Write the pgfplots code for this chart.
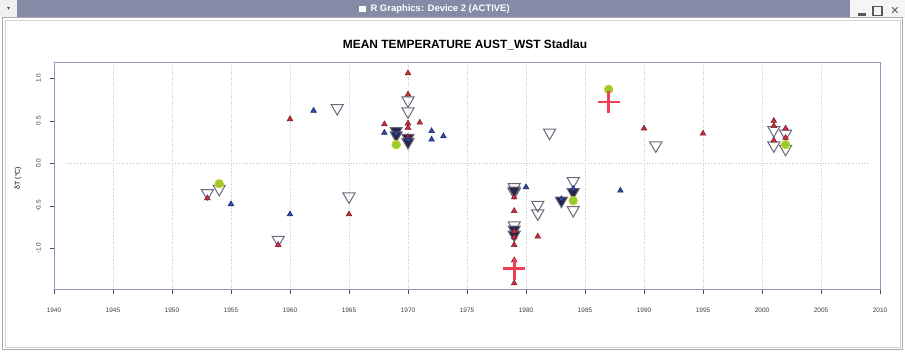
\documentclass[border=0pt]{standalone}
\usepackage{pgfplots}
\pgfplotsset{compat=1.18}
\usepackage{fontspec}
\setmainfont{Liberation Sans}
\newfontfamily\symfont{DejaVu Sans}

\definecolor{barcol}{RGB}{132,139,166}
\definecolor{redtri}{RGB}{205,45,65}
\definecolor{bluetri}{RGB}{50,72,175}
\definecolor{openedge}{RGB}{105,105,125}
\definecolor{darkfill}{RGB}{38,38,70}
\definecolor{greenfill}{RGB}{150,205,45}
\definecolor{greenedge}{RGB}{205,205,45}
\definecolor{plusred}{RGB}{242,62,82}
\definecolor{framecol}{RGB}{140,150,190}

\begin{document}
\begin{tikzpicture}
\useasboundingbox (0bp,0bp) rectangle (905bp,352bp);
% window body and title bar
\fill[white] (0bp,0bp) rectangle (905bp,352bp);
\fill[barcol] (0bp,334bp) rectangle (850bp,352bp);
\fill[gray!12] (0bp,334bp) rectangle (17bp,352bp);
\fill[gray!8] (850bp,334bp) rectangle (905bp,352bp);
\node[text=gray!60!black] at (8.5bp,343bp) {\symfont\fontsize{6}{7}\selectfont ▾};
\fill[white] (359bp,340bp) rectangle (366bp,346bp);
\node[text=white, anchor=west] at (367bp,343bp) {\bfseries\fontsize{9.5}{10}\selectfont R Graphics: Device 2 (ACTIVE)};
\fill[gray!70!black] (858bp,336bp) rectangle (866bp,339bp);
\draw[gray!70!black, line width=1.2bp] (873bp,336.5bp) rectangle (882bp,345.5bp);
\node[text=gray!70!black] at (895bp,341bp) {\symfont\fontsize{11}{12}\selectfont ✕};
\draw[gray!65, line width=1bp] (2.5bp,2.5bp) rectangle (902.5bp,334bp);
\draw[gray!35, line width=0.6bp] (5bp,5bp) rectangle (900bp,332bp);

% chart title and y label
\node at (465bp,307bp) {\bfseries\fontsize{12}{14}\selectfont MEAN TEMPERATURE AUST\_WST Stadlau};
\node[rotate=90] at (18bp,174bp) {\fontsize{7}{8}\selectfont δT (°C)};

\begin{axis}[
  at={(54bp,62bp)}, anchor=south west,
  width=826bp, height=227bp, scale only axis,
  xmin=1940, xmax=2010, ymin=-1.49, ymax=1.18,
  xtick={1940,1945,...,2010},
  ytick={-1,-0.5,0,0.5,1},
  tick pos=left, tick align=outside,
  major tick length=4bp,
  axis line style={framecol, line width=1bp},
  tick style={gray!60!black, line width=0.6bp},
  xmajorgrids,
  grid style={dotted, gray!40, line width=0.6bp},
  /pgf/number format/assume math mode=true,
  tick label style={font=\fontsize{6.5}{7}\selectfont, text=black!75},
  xticklabel style={/pgf/number format/1000 sep={}, anchor=north, inner sep=0pt, yshift=-14bp},
  yticklabel style={/pgf/number format/fixed, /pgf/number format/fixed zerofill,
    /pgf/number format/precision=1, rotate=90, anchor=south, inner sep=0pt, yshift=9bp},
  clip=false,
]
% zero reference line
\addplot[dotted, gray!50, line width=0.8bp] coordinates {(1941,0) (2009,0)};

% open down triangles
\addplot[only marks, mark=triangle, mark size=7,
  mark options={rotate=180, draw=openedge, fill=white, line width=1bp}]
coordinates {
(1953,-0.35) (1954,-0.30) (1959,-0.90) (1964,0.65) (1965,-0.39)
(1970,0.74) (1970,0.61) (1979,-0.28) (1979,-0.34) (1979,-0.73)
(1981,-0.49) (1981,-0.59) (1982,0.36) (1984,-0.21) (1984,-0.55)
(1991,0.21) (2001,0.39) (2001,0.21) (2002,0.35) (2002,0.17)
};

% filled down triangles
\addplot[only marks, mark=triangle*, mark size=7,
  mark options={rotate=180, draw=openedge, fill=darkfill, line width=1bp}]
coordinates {
(1969,0.38) (1969,0.33) (1970,0.30) (1970,0.25)
(1979,-0.32) (1979,-0.78) (1979,-0.84)
(1983,-0.44) (1984,-0.34)
};

% red triangles
\addplot[only marks, mark=triangle*, mark size=3.3,
  mark options={draw=redtri!55!black, fill=redtri, line width=0.5bp}]
coordinates {
(1953,-0.41) (1959,-0.96) (1960,0.52) (1965,-0.60) (1968,0.46)
(1970,1.06) (1970,0.81) (1970,0.47) (1970,0.42) (1970,0.31)
(1971,0.48) (1979,-0.40) (1979,-0.56) (1979,-0.80) (1979,-0.87)
(1979,-0.96) (1979,-1.14) (1979,-1.41) (1981,-0.86) (1990,0.41)
(1995,0.35) (2001,0.50) (2001,0.44) (2001,0.27) (2002,0.41) (2002,0.30)
};

% blue triangles
\addplot[only marks, mark=triangle*, mark size=3.3,
  mark options={draw=bluetri!55!black, fill=bluetri, line width=0.5bp}]
coordinates {
(1955,-0.48) (1960,-0.60) (1962,0.62) (1968,0.36) (1969,0.35)
(1970,0.28) (1972,0.38) (1972,0.28) (1973,0.32) (1980,-0.28)
(1984,-0.30) (1988,-0.32) (1983,-0.42)
};

% green circles
\addplot[only marks, mark=*, mark size=4.3,
  mark options={draw=greenedge, fill=greenfill, line width=0.8bp}]
coordinates {
(1954,-0.24) (1969,0.22) (1984,-0.44) (1987,0.87) (2002,0.22)
};

% red crosses
\addplot[only marks, mark=+, mark size=11,
  mark options={draw=plusred, line width=2.6bp}]
coordinates {
(1979,-1.24) (1987,0.72)
};
\end{axis}
\end{tikzpicture}
\end{document}
